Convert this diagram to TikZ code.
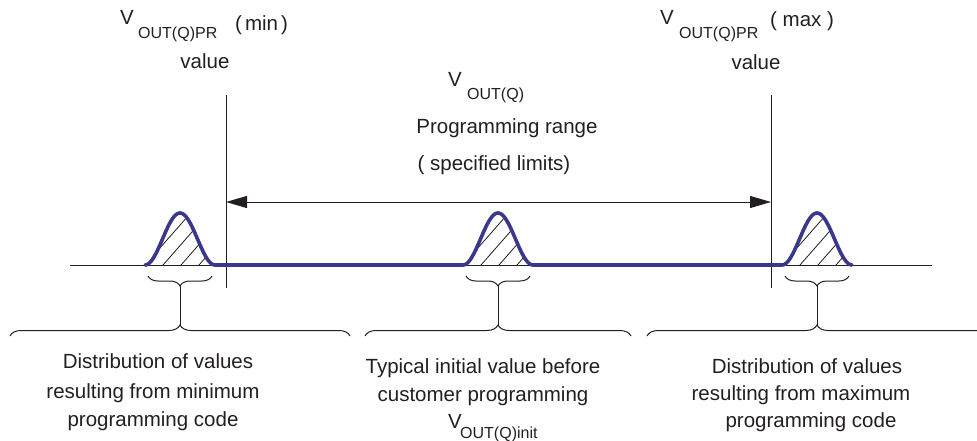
\documentclass[tikz,border=0pt]{standalone}
\usepackage{fontspec}
\setmainfont{Liberation Sans}
\usetikzlibrary{arrows.meta,decorations.pathreplacing}
\definecolor{curve}{RGB}{58,56,140}
\definecolor{ink}{RGB}{35,31,32}
\begin{document}
\begin{tikzpicture}[x=1pt,y=-1pt,
  txt/.style={font=\fontsize{20.5}{24}\selectfont, text=ink, inner sep=0pt, anchor=base},
  txtw/.style={txt, anchor=base west},
  sub/.style={font=\fontsize{16}{18}\selectfont, text=ink, inner sep=0pt, anchor=base west},
  thinline/.style={draw=ink, line width=1pt},
  hatch/.style={draw=ink, line width=0.8pt},
  bluecurve/.style={draw=curve, line width=3.6pt, line cap=round, line join=round},
  bracedec/.style={draw=ink, line width=1pt, decorate, decoration={brace, amplitude=#1}},
  rangearrow/.style={draw=ink, line width=1pt, {Triangle[length=21pt,width=12pt]}-{Triangle[length=21pt,width=12pt]}}
]
\useasboundingbox (0,0) rectangle (977,441);
\clip (0,0) rectangle (977,441);

% axis
\coordinate (axL) at (70,265);
\coordinate (axR) at (932,265);
\draw[thinline] (axL) -- (axR);

% limit lines
\coordinate (minTop) at (226,95);
\coordinate (minBot) at (226,288);
\coordinate (maxTop) at (771,95);
\coordinate (maxBot) at (771,288);
\draw[thinline] (minTop) -- (minBot);
\draw[thinline] (maxTop) -- (maxBot);

% range arrow
\coordinate (arrL) at (226,202);
\coordinate (arrR) at (771,202);
\draw[rangearrow] (arrL) -- (arrR);

% hatching of the three bells
\foreach \c in {180,498,817}{
  \begin{scope}
    \clip plot[domain=-35:35,samples=60] ({\c+\x},{265-26*(1+cos(\x*180/35))}) -- cycle;
    \foreach \k in {-2,...,3}{
      \draw[hatch] ({\c+\k*18-17},265) -- ++(50,-57);
    }
  \end{scope}
}

% blue curve
\draw[bluecurve]
  plot[domain=-35:35,samples=60] ({180+\x},{265-26*(1+cos(\x*180/35))})
  -- plot[domain=-35:35,samples=60] ({498+\x},{265-26*(1+cos(\x*180/35))})
  -- plot[domain=-35:35,samples=60] ({817+\x},{265-26*(1+cos(\x*180/35))});

% small braces under bells
\coordinate (sbL1) at (148,276); \coordinate (sbR1) at (212,276);
\coordinate (sbL2) at (466,276); \coordinate (sbR2) at (530,276);
\coordinate (sbL3) at (785,276); \coordinate (sbR3) at (849,276);
\draw[bracedec=10pt] (sbR1) -- (sbL1);
\draw[bracedec=10pt] (sbR2) -- (sbL2);
\draw[bracedec=10pt] (sbR3) -- (sbL3);

% large braces
\coordinate (bbL1) at (10,336);  \coordinate (bbR1) at (350,336);
\coordinate (bbL2) at (365,336); \coordinate (bbR2) at (631,336);
\coordinate (bbL3) at (647,336); \coordinate (bbR3) at (987,336);
\draw[bracedec=11pt] (bbL1) -- (bbR1);
\draw[bracedec=11pt] (bbL2) -- (bbR2);
\draw[bracedec=11pt] (bbL3) -- (bbR3);

% stems
\coordinate (st1a) at (180,286); \coordinate (st1b) at (180,325);
\coordinate (st2a) at (498,286); \coordinate (st2b) at (498,325);
\coordinate (st3a) at (817,286); \coordinate (st3b) at (817,325);
\draw[thinline] (st1a) -- (st1b);
\draw[thinline] (st2a) -- (st2b);
\draw[thinline] (st3a) -- (st3b);

% top-left label
\node[txtw] (vminV) at (120,25) {V};
\node[sub] (vminS) at (138,39) {OUT(Q)PR};
\node[txtw] (vminM) at (235,31) {(\hspace{3pt}min\hspace{3pt})};
\node[txt] (vminVal) at (205,69) {value};

% top-right label
\node[txtw] (vmaxV) at (660,25) {V};
\node[sub] (vmaxS) at (679,39) {OUT(Q)PR};
\node[txtw] (vmaxM) at (770,27) {( max )};
\node[txt] (vmaxVal) at (756,70) {value};

% top-middle label
\node[txtw] (rngV) at (448,87) {V};
\node[sub] (rngS) at (467,100) {OUT(Q)};
\node[txt] (rng1) at (507,134) {Programming range};
\node[txt] (rng2) at (494,170) {( specified limits)};

% bottom-left text
\node[txt] (bl1) at (158,368) {Distribution of values};
\node[txt] (bl2) at (153,398) {resulting from minimum};
\node[txt] (bl3) at (153,426) {programming code};

% bottom-middle text
\node[txt] (bm1) at (483,373) {Typical initial value before};
\node[txt] (bm2) at (483,401) {customer programming};
\node[txtw] (bmV) at (448,428) {V};
\node[sub] (bmS) at (460,438) {OUT(Q)init};

% bottom-right text
\node[txt] (br1) at (807,373) {Distribution of values};
\node[txt] (br2) at (801,400) {resulting from maximum};
\node[txt] (br3) at (811,427) {programming code};
\end{tikzpicture}
\end{document}
